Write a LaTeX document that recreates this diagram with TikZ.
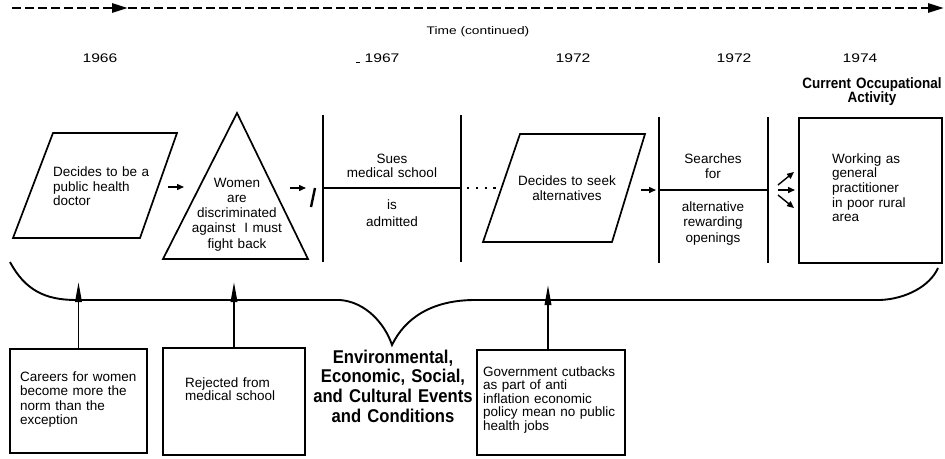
\documentclass[tikz,border=0pt]{standalone}
\usepackage{fontspec}
\setmainfont{Liberation Sans}
\newfontfamily\condfont{Liberation Sans}[FakeStretch=0.9]
\newfontfamily\widefont{Liberation Sans}[FakeStretch=1.25]
\usetikzlibrary{arrows.meta}

\begin{document}
\begin{tikzpicture}[x=1pt,y=-1pt,
  outline/.style={line width=1.7pt, line join=miter},
  bar/.style={line width=1.6pt},
  evbox/.style={draw, line width=1.8pt, inner sep=0pt},
  bodyl/.style={inner sep=0pt, anchor=base west, text width=140pt, align=left,
    font=\fontsize{13.5}{14.7}\selectfont},
  bodyc/.style={inner sep=0pt, anchor=base, text width=140pt, align=center,
    font=\fontsize{13.5}{15}\selectfont},
  yearlbl/.style={inner sep=0pt, anchor=base, font=\widefont\fontsize{12.5}{14}\selectfont},
  headlbl/.style={inner sep=0pt, anchor=base, text width=150pt, align=center,
    font=\condfont\bfseries\fontsize{15}{15}\selectfont},
  biglbl/.style={inner sep=0pt, anchor=base, text width=170pt, align=center,
    font=\condfont\bfseries\fontsize{18.5}{19.8}\selectfont},
  smallarrow/.style={line width=1.4pt, -{Triangle[length=7pt,width=6pt]}},
  uparrow/.style={line width=1.8pt, -{Triangle[length=20pt,width=6.5pt]}},
  timearrow/.style={line width=2.8pt, dash pattern=on 9pt off 4pt,
    -{Triangle[length=16pt,width=9pt]}}
]
\useasboundingbox (0,0) rectangle (945,458);

% time axis
\coordinate (t0) at (12,8);
\coordinate (t1) at (128,8);
\coordinate (t2) at (944,8);
\draw[timearrow] (t0) -- (t1);
\draw[timearrow] (t1) -- (t2);
\node[inner sep=0pt, anchor=base, font=\widefont\fontsize{11}{12}\selectfont] (timelbl) at (478,34) {Time (continued)};

% years
\node[yearlbl] (y1) at (100,62) {1966};
\node[yearlbl] (y2) at (382,62) {1967};
\node[yearlbl] (y3) at (573,62) {1972};
\node[yearlbl] (y4) at (734,62) {1972};
\node[yearlbl] (y5) at (860,62) {1974};
\draw[line width=1pt] (356,62) -- (360,62);
\node[headlbl] (cur) at (872,88) {Current Occupational\\[-0.5pt]Activity};

% decision: public health
\draw[outline] (53,133) coordinate (p1a) -- (177,133) -- (140,238) -- (13,238) -- cycle;
\node[bodyl] (p1txt) at (53,176.5) {Decides to be a\\public health\\doctor};

% triangle: reaction
\draw[outline] (237,113) coordinate (trtop) -- (308,259) -- (163,259) -- cycle;
\node[bodyc, font=\fontsize{13.5}{15.3}\selectfont] (trtxt) at (237,187) {Women\\are\\discriminated\\against\ \ I must\\fight back};

\coordinate (ar1s) at (168,187);
\coordinate (ar1e) at (184,187);
\draw[smallarrow] (ar1s) -- (ar1e);
\coordinate (ar2s) at (290,188);
\coordinate (ar2e) at (306,188);
\draw[smallarrow] (ar2s) -- (ar2e);
\draw[line width=2.4pt] (315,188) -- (311,207);

% column: sues medical school
\coordinate (s1t) at (323,115); \coordinate (s1b) at (323,262);
\coordinate (s2t) at (461,115); \coordinate (s2b) at (461,262);
\coordinate (s1m) at (323,188); \coordinate (s2m) at (461,188);
\draw[bar] (s1t) -- (s1b);
\draw[bar] (s2t) -- (s2b);
\draw[bar] (s1m) -- (s2m);
\node[bodyc, font=\fontsize{13.5}{14.2}\selectfont] (suetop) at (392,163) {Sues\\medical school};
\node[bodyc, font=\fontsize{13.5}{17}\selectfont] (suebot) at (392,209) {is\\admitted};

% dotted link
\coordinate (d1) at (467,188);
\coordinate (d2) at (496,188);
\draw[line width=2.2pt, dash pattern=on 2.2pt off 6.6pt, line cap=butt] (d1) -- (d2);

% decision: seek alternatives
\draw[outline] (520,134) -- (645,134) -- (612,242) -- (483,242) -- cycle;
\node[bodyc] (p2txt) at (567,185) {Decides to seek\\alternatives};

\coordinate (ar3s) at (641,190);
\coordinate (ar3e) at (656,190);
\draw[smallarrow] (ar3s) -- (ar3e);

% column: searches
\coordinate (r1t) at (659,117); \coordinate (r1b) at (659,263);
\coordinate (r2t) at (768,117); \coordinate (r2b) at (768,263);
\coordinate (r1m) at (659,190); \coordinate (r2m) at (768,190);
\draw[bar] (r1t) -- (r1b);
\draw[bar] (r2t) -- (r2b);
\draw[bar] (r1m) -- (r2m);
\node[bodyc] (srtop) at (713,163) {Searches\\for};
\node[bodyc, font=\fontsize{13.5}{15.5}\selectfont] (srbot) at (713,211) {alternative\\rewarding\\openings};

% branching arrows
\coordinate (f0) at (778,190);
\coordinate (fu) at (794,172);
\coordinate (fm) at (795,190);
\coordinate (fd) at (794,208);
\draw[smallarrow] (778,185) -- (fu);
\draw[smallarrow] (f0) -- (fm);
\draw[smallarrow] (778,195) -- (fd);

% current activity
\node[draw, line width=2.6pt, minimum width=143pt, minimum height=145pt, inner sep=0pt]
  (work) at (870.5,190.5) {};
\node[bodyl] (worktxt) at (832,163) {Working as\\general\\practitioner\\in poor rural\\area};

% brace collecting the events
\draw[line width=1.9pt]
  (10,262) .. controls (25,290) and (45,300) .. (76,300)
  -- (340,300) .. controls (366,302) and (385,324) .. (392,345)
  .. controls (405,318) and (432,300) .. (475,300)
  -- (880,300) .. controls (906,299) and (930,286) .. (938,268);

% events
\node[evbox, minimum width=137pt, minimum height=104pt] (b1) at (78.5,401) {};
\node[bodyl, font=\fontsize{13.5}{14.6}\selectfont] (b1txt) at (20,381) {Careers for women\\become more the\\norm than the\\exception};
\node[evbox, minimum width=142pt, minimum height=107pt] (b2) at (234,401.5) {};
\node[bodyl, font=\fontsize{13.5}{13}\selectfont] (b2txt) at (185,387) {Rejected from\\medical school};
\node[evbox, minimum width=148pt, minimum height=105pt] (b3) at (551,402.5) {};
\node[bodyl, font=\fontsize{13.5}{13.6}\selectfont] (b3txt) at (483,376) {Government cutbacks\\as part of anti\\inflation economic\\policy mean no public\\health jobs};

\coordinate (a1) at (78.5,282);
\coordinate (a2) at (234,282);
\coordinate (a3) at (548,285);
\draw[uparrow] (b1.north) -- (a1);
\draw[uparrow] (b2.north) -- (a2);
\draw[uparrow] (a3 |- b3.north) -- (a3);

\node[biglbl] (events) at (393,363) {Environmental,\\Economic, Social,\\and Cultural Events\\and Conditions};
\end{tikzpicture}
\end{document}
